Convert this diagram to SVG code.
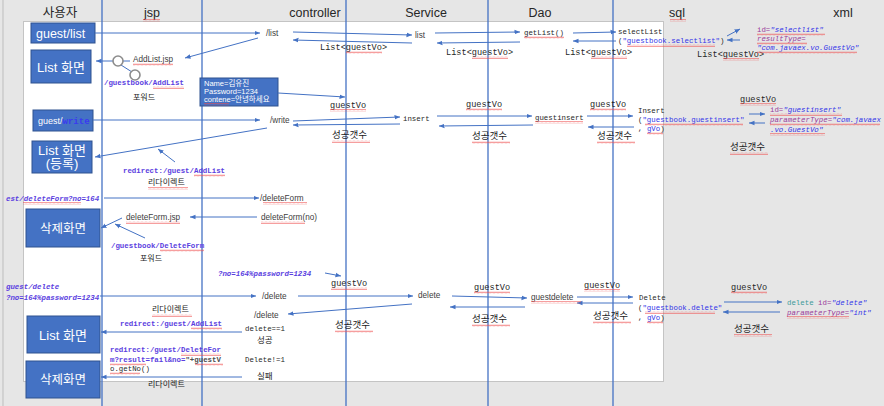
<svg xmlns="http://www.w3.org/2000/svg" width="884" height="406" viewBox="0 0 884 406">
<style>
.bg{fill:#e6e6e6}
.panel{fill:#ffffff;stroke:#c4c4c4;stroke-width:1}
.lane{stroke:#4472c4;stroke-width:1.3}
.box{fill:#4472c4;stroke:#2f528f;stroke-width:1}
.bt{font-family:"Liberation Sans","Noto Sans CJK KR",sans-serif;fill:#ffffff}
.hd{font-family:"Liberation Sans","Noto Sans CJK KR",sans-serif;font-size:12.5px;fill:#262626;text-anchor:middle}
.c line{stroke:#4472c4;stroke-width:1;marker-end:url(#ah)}
.s{font-family:"Liberation Sans","Noto Sans CJK KR",sans-serif;font-size:8.2px;fill:#404040}
.m1{font-family:"Liberation Mono",monospace;font-size:8.6px;fill:#262626}
.m2{font-family:"Liberation Mono",monospace;font-size:7.4px;fill:#262626}
.k{font-family:"Noto Sans CJK KR",sans-serif;fill:#1a1a1a}
.k1{font-size:9.5px}
.k2{font-size:8px}
.pu{fill:#5a3ee0}
.bl{fill:#3434e8}
.at{fill:#9a3b9a}
.te{fill:#3c9a9a}
.it{font-style:italic}
.sq{fill:url(#wave)}
</style>
<defs>
<marker id="ah" viewBox="0 0 6 6" refX="6" refY="3" markerWidth="5.5" markerHeight="5.5" markerUnits="userSpaceOnUse" orient="auto">
<path d="M0,0.5 L6,3 L0,5.5 z" fill="#4472c4"/>
</marker>
<pattern id="wave" width="4" height="3" patternUnits="userSpaceOnUse">
<path d="M0,2.3 L1,0.7 L2,2.3 L3,0.7 L4,2.3" stroke="#ee4b4b" stroke-width="0.55" fill="none"/>
</pattern>
</defs>

<rect class="bg" x="0" y="0" width="884" height="406"/>
<line x1="3" y1="0" x2="3" y2="406" stroke="#bdbdbd" stroke-width="1"/>
<rect class="panel" x="23.5" y="21.5" width="640" height="360"/>

<g id="headers">
<text class="hd" x="60" y="17">사용자</text>
<text class="hd" x="152" y="17">jsp</text>
<text class="hd" x="315" y="17">controller</text>
<text class="hd" x="426" y="17">Service</text>
<text class="hd" x="540" y="17">Dao</text>
<text class="hd" x="677" y="17">sql</text>
<text class="hd" x="843" y="17">xml</text>
</g>

<g id="lanes">
<line class="lane" x1="102" y1="0" x2="102" y2="406"/>
<line class="lane" x1="202" y1="0" x2="202" y2="406"/>
<line class="lane" x1="346" y1="0" x2="346" y2="406"/>
<line class="lane" x1="488" y1="0" x2="488" y2="406"/>
<line class="lane" x1="613" y1="0" x2="613" y2="406"/>
</g>

<g id="node-guest-list"><rect class="box" x="31" y="23" width="64" height="20"/><text class="bt" x="36" y="37.5" font-size="12.5">guest/list</text></g>
<g id="node-list-view-1"><rect class="box" x="31" y="50" width="60" height="33"/><text class="bt" x="61" y="71.5" font-size="13" text-anchor="middle">List 화면</text></g>
<g id="node-form-data"><rect class="box" x="200" y="78" width="78" height="28"/>
<text class="bt" x="204" y="85.5" font-size="7.5">Name=김유진</text>
<text class="bt" x="204" y="93.5" font-size="7.5">Password=1234</text>
<text class="bt" x="204" y="101.5" font-size="7.5">contene=안녕하세요</text></g>
<g id="node-guest-write"><rect class="box" x="33" y="110" width="60" height="21"/><text class="bt" x="38" y="123.5" font-size="9">guest/<tspan font-family="Liberation Mono,monospace" fill="#3a3af0" font-weight="bold">write</tspan></text></g>
<g id="node-list-view-2"><rect class="box" x="32" y="141" width="60" height="32"/>
<text class="bt" x="62" y="154.5" font-size="13" text-anchor="middle">List 화면</text>
<text class="bt" x="62" y="168" font-size="13" text-anchor="middle">(등록)</text></g>
<g id="node-delete-view-1"><rect class="box" x="26" y="209" width="74" height="38"/><text class="bt" x="63" y="232.5" font-size="12.5" text-anchor="middle">삭제화면</text></g>
<g id="node-list-view-3"><rect class="box" x="27" y="316" width="73" height="37"/><text class="bt" x="63" y="339.5" font-size="13" text-anchor="middle">List 화면</text></g>
<g id="node-delete-view-2"><rect class="box" x="26" y="361" width="74" height="37"/><text class="bt" x="63" y="383.5" font-size="12.5" text-anchor="middle">삭제화면</text></g>

<g id="connectors" class="c">
<line x1="95" y1="33" x2="260" y2="33"/>
<line x1="293" y1="32" x2="412" y2="35"/>
<line x1="412" y1="43" x2="293" y2="40"/>
<line x1="435" y1="33" x2="520" y2="32"/>
<line x1="520" y1="42" x2="437" y2="43"/>
<line x1="573" y1="33" x2="616" y2="32"/>
<line x1="616" y1="41" x2="573" y2="41"/>
<line x1="727" y1="36" x2="740" y2="29"/>
<line x1="740" y1="40" x2="727" y2="40"/>
<line x1="258" y1="38" x2="185" y2="58"/>
<line x1="130" y1="61" x2="96" y2="61"/>
<line x1="278" y1="93" x2="345" y2="97"/>
<line x1="93" y1="120" x2="260" y2="120"/>
<line x1="293" y1="121" x2="400" y2="117"/>
<line x1="400" y1="124" x2="293" y2="125"/>
<line x1="267" y1="128" x2="95" y2="157"/>
<line x1="175" y1="162" x2="158" y2="149"/>
<line x1="437" y1="116" x2="532" y2="116"/>
<line x1="533" y1="125" x2="439" y2="126"/>
<line x1="587" y1="116" x2="633" y2="116"/>
<line x1="634" y1="127" x2="588" y2="127"/>
<line x1="749" y1="114" x2="765" y2="114"/>
<line x1="765" y1="123" x2="749" y2="123"/>
<line x1="104" y1="198" x2="259" y2="198"/>
<line x1="257" y1="217" x2="190" y2="217"/>
<line x1="122" y1="218" x2="101" y2="228"/>
<line x1="145" y1="238" x2="115" y2="224"/>
<line x1="325" y1="273" x2="341" y2="276"/>
<line x1="100" y1="296" x2="256" y2="296"/>
<line x1="298" y1="296" x2="413" y2="296"/>
<line x1="412" y1="304" x2="288" y2="314"/>
<line x1="452" y1="296" x2="527" y2="298"/>
<line x1="525" y1="307" x2="450" y2="307"/>
<line x1="577" y1="297" x2="633" y2="297"/>
<line x1="633" y1="303" x2="577" y2="303"/>
<line x1="724" y1="302" x2="782" y2="302"/>
<line x1="780" y1="312" x2="723" y2="312"/>
<line x1="242" y1="332" x2="101" y2="332"/>
<line x1="242" y1="377" x2="101" y2="377"/>
<path d="M121,65 L132,72" stroke="#4472c4" stroke-width="1" fill="none"/>
<circle cx="118" cy="61" r="5" fill="#ffffff" stroke="#8c8c8c" stroke-width="1.6"/>
<circle cx="135" cy="75" r="5" fill="#ffffff" stroke="#8c8c8c" stroke-width="1.6"/>
</g>

<g id="labels">
<text class="s" x="266" y="36">/list</text>
<text class="s" x="415" y="38">list</text>
<text class="s" x="133" y="62">AddList.jsp</text>
<text class="s" x="270" y="123">/write</text>
<text class="s" x="260" y="201">/deleteForm</text>
<text class="s" x="261" y="220">deleteForm(no)</text>
<text class="s" x="126" y="220">deleteForm.jsp</text>
<text class="s" x="262" y="299">/delete</text>
<text class="s" x="418" y="298">delete</text>
<text class="s" x="531" y="300">guestdelete</text>
<text class="s" x="254" y="318">/delete</text>

<text class="m1" x="320" y="50">List&lt;guestVo&gt;</text>
<text class="m1" x="446" y="55">List&lt;guestVo&gt;</text>
<text class="m1" x="565" y="55">List&lt;guestVo&gt;</text>
<text class="m1" x="697" y="57">List&lt;guestVo&gt;</text>
<text class="m1" x="330" y="108">guestVo</text>
<text class="m1" x="466" y="107">guestVo</text>
<text class="m1" x="590" y="107">guestVo</text>
<text class="m1" x="740" y="102">guestVo</text>
<text class="m1" x="331" y="286">guestVo</text>
<text class="m1" x="474" y="290">guestVo</text>
<text class="m1" x="584" y="288">guestVo</text>
<text class="m1" x="731" y="290">guestVo</text>

<text class="m2" x="524" y="34.6">getList()</text>
<text class="m2" x="618" y="33.6">selectList</text>
<text class="m2" x="618" y="42.6">(<tspan class="bl">"guestbook.selectlist"</tspan>)</text>
<text class="m2" x="403" y="120.6">insert</text>
<text class="m2" x="535" y="119.6">guestinsert</text>
<text class="m2" x="638" y="112.6">Insert</text>
<text class="m2" x="638" y="121.6">(<tspan class="bl">"guestbook.guestinsert"</tspan></text>
<text class="m2" x="638" y="130.6">, <tspan class="bl">gVo</tspan>)</text>
<text class="m2" x="639" y="299.6">Delete</text>
<text class="m2" x="638" y="309.6">(<tspan class="bl">"guestbook.delete"</tspan></text>
<text class="m2" x="638" y="319.6">, <tspan class="bl">gVo</tspan>)</text>
<text class="m2" x="245" y="330.6" fill="#4d4d4d">delete==1</text>
<text class="m2" x="245" y="361.6" fill="#4d4d4d">Delete!=1</text>

<text class="m2" x="757" y="31.6"><tspan class="at">id=</tspan><tspan class="bl it">"selectlist"</tspan></text>
<text class="m2 at it" x="757" y="40.6">resultType=</text>
<text class="m2 bl it" x="757" y="49.6">"com.javaex.vo.GuestVo"</text>
<text class="m2" x="770" y="111.6"><tspan class="at">id=</tspan><tspan class="bl it">"guestinsert"</tspan></text>
<text class="m2" x="770" y="121.6"><tspan class="at it">parameterType=</tspan><tspan class="bl it">"com.javaex</tspan></text>
<text class="m2 bl it" x="770" y="131.6">.vo.GuestVo"</text>
<text class="m2" x="787" y="304.6"><tspan class="te">delete</tspan> <tspan class="at">id=</tspan><tspan class="bl it">"delete"</tspan></text>
<text class="m2" x="787" y="314.6"><tspan class="at it">parameterType=</tspan><tspan class="bl it">"int"</tspan></text>

<text class="m2 pu" x="104" y="84.6" font-weight="bold">/guestbook/AddList</text>
<text class="m2 pu" x="123" y="172.6" font-weight="bold">redirect:/guest/AddList</text>
<text class="m2 pu it" x="6" y="200.6" font-weight="bold">est/deleteForm?no=164</text>
<text class="m2 pu" x="111" y="247.6" font-weight="bold">/guestbook/DeleteForm</text>
<text class="m2 pu it" x="218" y="275.6" font-weight="bold">?no=164%password=1234</text>
<text class="m2 pu it" x="6" y="288.6" font-weight="bold">guest/delete</text>
<text class="m2 pu it" x="6" y="299.6" font-weight="bold">?no=164%password=1234</text>
<text class="m2 pu" x="120" y="325.6" font-weight="bold">redirect:/guest/AddList</text>
<text class="m2 pu" x="110" y="351.6" font-weight="bold">redirect:/guest/DeleteFor</text>
<text class="m2" x="110" y="361.6" font-weight="bold"><tspan class="pu">m?result=fail&amp;no=</tspan><tspan fill="#4d4d4d">"+guestV</tspan></text>
<text class="m2" x="110" y="370.6" fill="#4d4d4d">o.getNo()</text>

<text class="k k2" x="133" y="100">포워드</text>
<text class="k k2" x="140" y="261">포워드</text>
<text class="k k2" x="148" y="185">리다이렉트</text>
<text class="k k2" x="152" y="312">리다이렉트</text>
<text class="k k2" x="148" y="387">리다이렉트</text>
<text class="k" x="257" y="343" font-size="8.5">성공</text>
<text class="k" x="257" y="379" font-size="8.5">실패</text>
<text class="k k1" x="332" y="138.4">성공갯수</text>
<text class="k k1" x="472" y="139.4">성공갯수</text>
<text class="k k1" x="597" y="139.4">성공갯수</text>
<text class="k k1" x="730" y="150.4">성공갯수</text>
<text class="k k1" x="335" y="328.4">성공갯수</text>
<text class="k k1" x="472" y="322.4">성공갯수</text>
<text class="k k1" x="593" y="319.4">성공갯수</text>
<text class="k k1" x="734" y="332.4">성공갯수</text>
</g>

<g id="spellcheck">
<rect class="sq" x="143" y="19" width="17" height="3"/>
<rect class="sq" x="670" y="19" width="16" height="3"/>
<rect class="sq" x="346" y="51" width="36" height="3"/>
<rect class="sq" x="472" y="56" width="36" height="3"/>
<rect class="sq" x="591" y="56" width="36" height="3"/>
<rect class="sq" x="723" y="58" width="36" height="3"/>
<rect class="sq" x="524" y="36" width="40" height="3"/>
<rect class="sq" x="627" y="44" width="88" height="3"/>
<rect class="sq" x="757" y="33" width="68" height="3"/>
<rect class="sq" x="757" y="42" width="50" height="3"/>
<rect class="sq" x="757" y="51" width="100" height="3"/>
<rect class="sq" x="133" y="63" width="40" height="3"/>
<rect class="sq" x="153" y="86" width="31" height="3"/>
<rect class="sq" x="204" y="103" width="25" height="3"/>
<rect class="sq" x="330" y="109" width="36" height="3"/>
<rect class="sq" x="466" y="108" width="36" height="3"/>
<rect class="sq" x="590" y="108" width="36" height="3"/>
<rect class="sq" x="740" y="103" width="36" height="3"/>
<rect class="sq" x="331" y="287" width="36" height="3"/>
<rect class="sq" x="474" y="291" width="36" height="3"/>
<rect class="sq" x="584" y="289" width="36" height="3"/>
<rect class="sq" x="731" y="291" width="36" height="3"/>
<rect class="sq" x="332" y="140" width="38" height="3"/>
<rect class="sq" x="472" y="141" width="38" height="3"/>
<rect class="sq" x="597" y="141" width="38" height="3"/>
<rect class="sq" x="730" y="152" width="38" height="3"/>
<rect class="sq" x="335" y="330" width="38" height="3"/>
<rect class="sq" x="472" y="324" width="38" height="3"/>
<rect class="sq" x="593" y="321" width="38" height="3"/>
<rect class="sq" x="734" y="334" width="38" height="3"/>
<rect class="sq" x="535" y="121" width="48" height="3"/>
<rect class="sq" x="645" y="123" width="98" height="3"/>
<rect class="sq" x="647" y="132" width="16" height="3"/>
<rect class="sq" x="770" y="113" width="72" height="3"/>
<rect class="sq" x="770" y="123" width="110" height="3"/>
<rect class="sq" x="770" y="133" width="55" height="3"/>
<rect class="sq" x="194" y="174" width="31" height="3"/>
<rect class="sq" x="148" y="187" width="40" height="3"/>
<rect class="sq" x="23" y="202" width="58" height="3"/>
<rect class="sq" x="263" y="202" width="44" height="3"/>
<rect class="sq" x="261" y="221" width="44" height="3"/>
<rect class="sq" x="126" y="221" width="54" height="3"/>
<rect class="sq" x="160" y="249" width="44" height="3"/>
<rect class="sq" x="531" y="301" width="50" height="3"/>
<rect class="sq" x="645" y="311" width="70" height="3"/>
<rect class="sq" x="647" y="321" width="16" height="3"/>
<rect class="sq" x="787" y="316" width="62" height="3"/>
<rect class="sq" x="152" y="314" width="40" height="3"/>
<rect class="sq" x="191" y="327" width="31" height="3"/>
<rect class="sq" x="181" y="353" width="40" height="3"/>
<rect class="sq" x="110" y="363" width="36" height="3"/>
<rect class="sq" x="195" y="363" width="28" height="3"/>
<rect class="sq" x="110" y="372" width="30" height="3"/>
</g>
</svg>
